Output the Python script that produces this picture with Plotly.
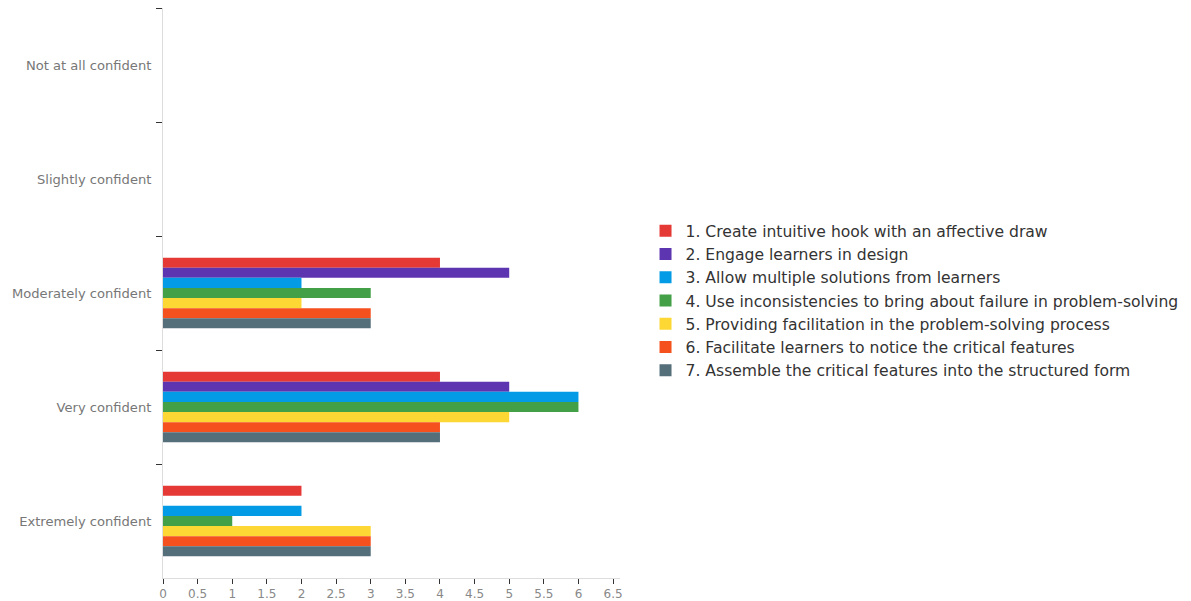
import plotly.graph_objects as go

# Confidence levels, listed top to bottom
levels = ["Not at all confident", "Slightly confident", "Moderately confident",
          "Very confident", "Extremely confident"]

series_names = [
    "1. Create intuitive hook with an affective draw",
    "2. Engage learners in design",
    "3. Allow multiple solutions from learners",
    "4. Use inconsistencies to bring about failure in problem-solving",
    "5. Providing facilitation in the problem-solving process",
    "6. Facilitate learners to notice the critical features",
    "7. Assemble the critical features into the structured form",
]

# Counts per level for each series (same order as levels)
s1 = [0, 0, 4, 4, 2]
s2 = [0, 0, 5, 5, 0]
s3 = [0, 0, 2, 6, 2]
s4 = [0, 0, 3, 6, 1]
s5 = [0, 0, 2, 5, 3]
s6 = [0, 0, 3, 4, 3]
s7 = [0, 0, 3, 4, 3]
series_values = [s1, s2, s3, s4, s5, s6, s7]

colors = ["#E53935", "#5E35B1", "#039BE5", "#43A047", "#FDD835", "#F4511E", "#546E7A"]

x_ticks = [0, 0.5, 1, 1.5, 2, 2.5, 3, 3.5, 4, 4.5, 5, 5.5, 6, 6.5]
x_tick_text = ["0", "0.5", "1", "1.5", "2", "2.5", "3", "3.5", "4", "4.5", "5", "5.5", "6", "6.5"]

fig = go.Figure()
for name, vals, col in zip(series_names, series_values, colors):
    fig.add_trace(go.Bar(
        y=levels, x=vals, name=name, orientation="h",
        marker=dict(color=col, line=dict(width=0)),
    ))

font_family = "DejaVu Sans, Noto Sans, sans-serif"

fig.update_layout(
    width=1191, height=601,
    barmode="group", bargap=0.38, bargroupgap=0,
    plot_bgcolor="white", paper_bgcolor="white",
    margin=dict(l=163, r=571, t=8, b=23, autoexpand=False),
    font=dict(family=font_family),
    showlegend=True,
    legend=dict(
        xref="container", yref="container",
        x=0.542, y=0.5, xanchor="left", yanchor="middle",
        font=dict(size=15.6, color="#333333", family=font_family),
        traceorder="normal", itemclick=False,
        tracegroupgap=0,
    ),
    xaxis=dict(
        range=[0, 6.6], tickvals=x_ticks, ticktext=x_tick_text,
        showgrid=False, zeroline=False, automargin=False,
        showline=True, linecolor="#dddddd", linewidth=1,
        ticks="outside", ticklen=5, tickcolor="#333333", tickwidth=1,
        tickfont=dict(size=12, color="#888888"),
    ),
    yaxis=dict(
        type="category", categoryorder="array", categoryarray=levels,
        range=[4.5, -0.5], automargin=False,
        showgrid=False, zeroline=False,
        showline=True, linecolor="#dddddd", linewidth=1,
        ticks="outside", tickson="boundaries", ticklen=6,
        tickcolor="#333333", tickwidth=1,
        tickfont=dict(size=13.1, color="#777777"),
        ticklabelstandoff=8,
    ),
)

fig.write_html("out.html")
